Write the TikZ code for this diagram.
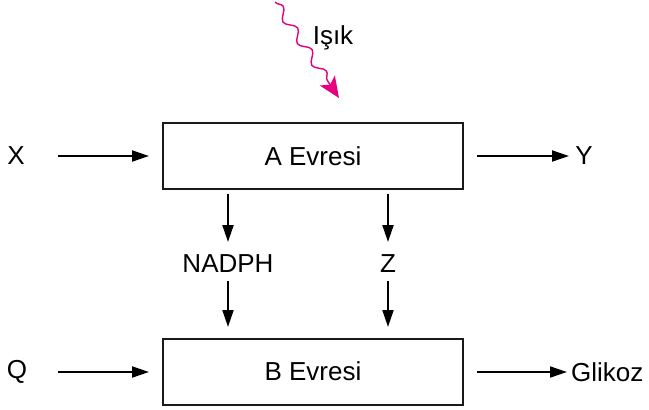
\documentclass[tikz,border=0pt]{standalone}
\usepackage{fontspec}
\setmainfont{Liberation Sans}
\usetikzlibrary{arrows.meta,decorations.pathmorphing}
\definecolor{mag}{HTML}{E6007E}
\begin{document}
\begin{tikzpicture}[x=1pt,y=-1pt,
  box/.style={draw=black!90,line width=2pt,minimum width=300pt,minimum height=66pt,inner sep=0pt,font=\fontsize{26}{30}\selectfont},
  lbl/.style={inner sep=0pt,font=\fontsize{26}{30}\selectfont},
  arr/.style={line width=2pt,-{Triangle[length=17pt,width=11pt]}},
  pt/.style={inner sep=0pt}]
\useasboundingbox (0,0) rectangle (649,410);
\node[box] (A) at (313,156) {A Evresi};
\node[box] (B) at (313,371.5) {B Evresi};
\node[lbl] (X) at (16,156) {X};
\node[lbl] (Y) at (584,156) {Y};
\node[lbl] (Q) at (17,372) {Q};
\node[lbl,anchor=west] (G) at (571,372) {Glikoz};
\node[lbl] (N) at (228,264) {NADPH};
\node[lbl] (Z) at (388,264) {Z};
\node[lbl] (I) at (333,38) {Işık};
\coordinate (Xs) at (58,156);
\coordinate (Xe) at (149,156);
\coordinate (Ys) at (477,156);
\coordinate (Ye) at (569,156);
\coordinate (Qs) at (58,372);
\coordinate (Qe) at (149,372);
\coordinate (Gs) at (477,372);
\coordinate (Ge) at (567,372);
\coordinate (N1) at (228,194);
\coordinate (N2) at (228,242);
\coordinate (N3) at (228,281);
\coordinate (N4) at (228,327);
\coordinate (Z1) at (388,194);
\coordinate (Z2) at (388,242);
\coordinate (Z3) at (388,281);
\coordinate (Z4) at (388,327);
\coordinate (Ls) at (275,2);
\coordinate (Le) at (339,98);
\draw[arr] (Xs) -- (Xe);
\draw[arr] (Ys) -- (Ye);
\draw[arr] (Qs) -- (Qe);
\draw[arr] (Gs) -- (Ge);
\draw[arr] (N1) -- (N2);
\draw[arr] (N3) -- (N4);
\draw[arr] (Z1) -- (Z2);
\draw[arr] (Z3) -- (Z4);
\draw[mag,line width=1.4pt,-{Stealth[length=21pt,width=18pt,inset=5pt]},
  decorate,decoration={snake,segment length=26pt,amplitude=4.5pt,post length=18pt}] (Ls) -- (Le);
\end{tikzpicture}
\end{document}
